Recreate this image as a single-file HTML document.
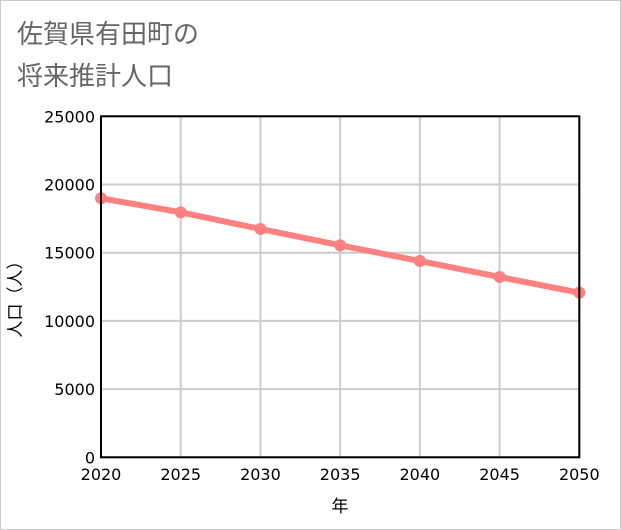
<!DOCTYPE html>
<html><head><meta charset="utf-8"><style>
body{margin:0;background:#fff;}
svg{display:block;font-family:"Liberation Sans","Noto Sans CJK JP",sans-serif;}
</style></head><body>
<svg width="621" height="530">
<rect x="0.5" y="0.5" width="620" height="529" fill="#fff" stroke="#ccc"/>
<text x="17" y="43" font-size="26" fill="#666">佐賀県有田町の</text>
<text x="17" y="85" font-size="26" fill="#666">将来推計人口</text>
<g id="grid"></g>
<g id="marks"></g>
<rect x="101" y="116.3" width="478.3" height="341" fill="none" stroke="#000" stroke-width="2"/>
<text x="21" y="295" font-size="17" fill="#000" transform="rotate(-90 21 295)" text-anchor="middle">人口（人）</text>
<text x="340" y="512" font-size="17" fill="#000" text-anchor="middle">年</text>
</svg>
<script>
const years=[2020,2025,2030,2035,2040,2045,2050];
const population=[18990,17960,16740,15540,14390,13220,12070];
const yTicks=[0,5000,10000,15000,20000,25000];
const X0=101,X1=579.3,Y0=457.3,Y1=116.3;
const xs=v=>X0+(v-2020)/30*(X1-X0);
const ys=v=>Y0-v/25000*(Y0-Y1);
const NS="http://www.w3.org/2000/svg";
const grid=document.getElementById('grid'),marks=document.getElementById('marks');
function mk(tag,attrs,parent){const e=document.createElementNS(NS,tag);for(const k in attrs)e.setAttribute(k,attrs[k]);parent.appendChild(e);return e;}
yTicks.forEach(t=>{
 const l=mk('line',{x1:X0,x2:X1,y1:ys(t),y2:ys(t),stroke:'#ccc','stroke-width':2},grid);
 
 
 const tx=mk('text',{x:X0-6,y:ys(t)+6,'font-size':16,'font-family':'DejaVu Sans, sans-serif','text-anchor':'end',fill:'#000'},grid);
 tx.textContent=t;
 
 
});
years.forEach(y=>{
 const l=mk('line',{x1:xs(y),x2:xs(y),y1:Y1,y2:Y0,stroke:'#ccc','stroke-width':2},grid);
 
 
 const tx=mk('text',{x:xs(y),y:480,'font-size':16,'font-family':'DejaVu Sans, sans-serif','text-anchor':'middle',fill:'#000'},grid);
 tx.textContent=y;
 
 
});
const pl=mk('polyline',{points:years.map((y,i)=>xs(y)+','+ys(population[i])).join(' '),fill:'none',stroke:'#ff8080','stroke-width':6},marks);


years.forEach((y,i)=>{
 const c=mk('circle',{cx:xs(y),cy:ys(population[i]),r:6,fill:'#ff8080'},marks);
 
 
});
</script>
</body></html>
